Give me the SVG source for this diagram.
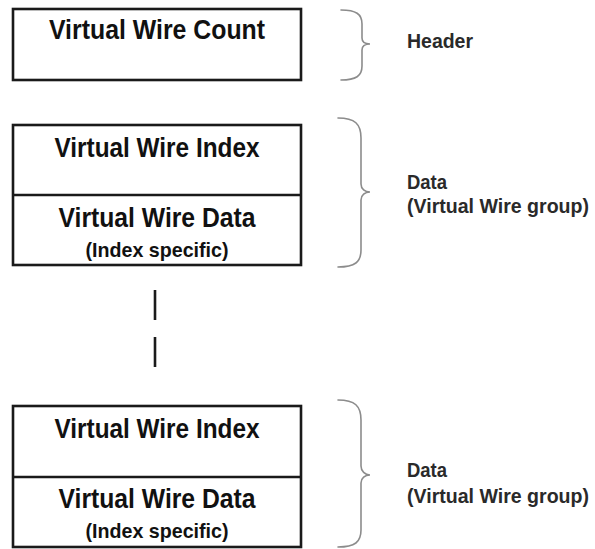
<svg xmlns="http://www.w3.org/2000/svg" width="595" height="549" viewBox="0 0 595 549">
  <style>
    .box { fill: #ffffff; stroke: #1a1a1a; stroke-width: 2.6; }
    .div { stroke: #1a1a1a; stroke-width: 2.6; }
    .title { font-family: "Liberation Sans", Arial, sans-serif; font-weight: bold; font-size: 27.5px; fill: #111; text-anchor: middle; }
    .sub { font-family: "Liberation Sans", Arial, sans-serif; font-weight: bold; font-size: 20.5px; fill: #111; text-anchor: middle; }
    .label { font-family: "Liberation Sans", Arial, sans-serif; font-weight: bold; font-size: 20px; fill: #2a2a2a; }
    .label.long { font-size: 19.5px; }
    .brace { fill: none; stroke: #8c8c8c; stroke-width: 1.6; stroke-linecap: round; }
    .gap { stroke: #1a1a1a; stroke-width: 2.6; }
  </style>

  <!-- Header record -->
  <g id="header">
    <rect class="box" x="13" y="9" width="288" height="71"/>
    <text class="title" x="157" y="39" textLength="216" lengthAdjust="spacingAndGlyphs">Virtual Wire Count</text>
  </g>

  <!-- First virtual wire group -->
  <g id="group1">
    <rect class="box" x="13" y="125" width="288" height="140"/>
    <line class="div" x1="13" y1="195" x2="301" y2="195"/>
    <text class="title" x="157" y="157" textLength="205" lengthAdjust="spacingAndGlyphs">Virtual Wire Index</text>
    <text class="title" x="157" y="227" textLength="197" lengthAdjust="spacingAndGlyphs">Virtual Wire Data</text>
    <text class="sub" x="157" y="257" textLength="143" lengthAdjust="spacingAndGlyphs">(Index specific)</text>
  </g>

  <!-- Last virtual wire group -->
  <g id="group2">
    <rect class="box" x="13" y="406" width="288" height="141"/>
    <line class="div" x1="13" y1="477" x2="301" y2="477"/>
    <text class="title" x="157" y="438" textLength="205" lengthAdjust="spacingAndGlyphs">Virtual Wire Index</text>
    <text class="title" x="157" y="508" textLength="197" lengthAdjust="spacingAndGlyphs">Virtual Wire Data</text>
    <text class="sub" x="157" y="538" textLength="143" lengthAdjust="spacingAndGlyphs">(Index specific)</text>
  </g>

  <!-- Continuation marks and braces -->
  <g id="connectors">
    <line class="gap" x1="155" y1="290" x2="155" y2="320"/>
    <line class="gap" x1="155" y1="337" x2="155" y2="367"/>

    <path class="brace" d="M341 10 C356 10 362 14 362 24 L362 38 C362 42 365 44 370 44 C365 44 362 46 362 50 L362 66 C362 76 356 80 341 80"/>
    <path class="brace" d="M338 118 C355 118 361 124 361 138 L361 184 C361 189 365 192 370 192 C365 192 361 195 361 200 L361 250 C361 262 355 267 338 267"/>
    <path class="brace" d="M338 400 C355 400 361 406 361 420 L361 466 C361 471 365 475 370 475 C365 475 361 478 361 483 L361 530 C361 542 355 547 338 547"/>
  </g>

  <!-- Brace labels -->
  <g id="labels">
    <text class="label" x="407" y="48" textLength="66" lengthAdjust="spacingAndGlyphs">Header</text>
    <text class="label" x="407" y="189" textLength="40" lengthAdjust="spacingAndGlyphs">Data</text>
    <text class="label long" x="407" y="213" textLength="182" lengthAdjust="spacingAndGlyphs">(Virtual Wire group)</text>
    <text class="label" x="407" y="477" textLength="40" lengthAdjust="spacingAndGlyphs">Data</text>
    <text class="label long" x="407" y="503" textLength="182" lengthAdjust="spacingAndGlyphs">(Virtual Wire group)</text>
  </g>
</svg>
